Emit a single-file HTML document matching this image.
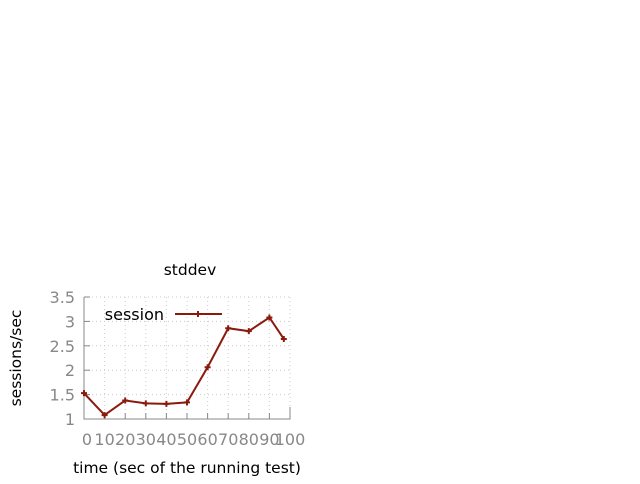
<!DOCTYPE html>
<html><head><meta charset="utf-8"><style>
body{margin:0;background:#fff;width:640px;height:480px;overflow:hidden;font-family:"DejaVu Sans","Liberation Sans",sans-serif}
</style></head><body>
<svg id="chart" width="640" height="480" xmlns="http://www.w3.org/2000/svg" font-family="DejaVu Sans, Liberation Sans, sans-serif">
<text x="190" y="275" font-size="15.5" text-anchor="middle" fill="#000">stddev</text>
<text x="0" y="0" transform="translate(21,358) rotate(-90)" font-size="15.5" text-anchor="middle" fill="#000">sessions/sec</text>
<text x="187" y="473" font-size="15.5" text-anchor="middle" fill="#000">time (sec of the running test)</text>
<g id="grid"></g><g id="axes"></g><g id="series"></g>
<g>
<text x="164" y="320" font-size="16" text-anchor="end" fill="#000">session</text>
<line x1="175" y1="314" x2="222" y2="314" stroke="#8b1a0e" stroke-width="2"/>
<path d="M195,314h6M198,311v6" stroke="#8b1a0e" stroke-width="2"/>
</g>
</svg>
<script>
const xValues=[0,10,20,30,40,50,60,70,80,90,97];
const yValues=[1.53,1.08,1.38,1.32,1.31,1.34,2.06,2.86,2.80,3.08,2.64];
const xTicks=["0","10","20","30","40","50","60","70","80","90","100"];
const yTicks=["1","1.5","2","2.5","3","3.5"];
const NS="http://www.w3.org/2000/svg";
const X0=84,X1=290,Y0=419,Y1=297;
const sx=v=>X0+(v-0)/100*(X1-X0);
const sy=v=>Y0-(v-1)/2.5*(Y0-Y1);
function mk(tag,attrs,parent){const e=document.createElementNS(NS,tag);for(const k in attrs)e.setAttribute(k,attrs[k]);parent.appendChild(e);return e;}
const grid=document.getElementById('grid'),axes=document.getElementById('axes'),ser=document.getElementById('series');
xTicks.forEach((t,i)=>{const x=sx(+t);
 const g=mk('line',{x1:x,y1:Y1,x2:x,y2:Y0,stroke:'#ccc','stroke-dasharray':'1,3'},grid);
 
 
 const tk=mk('line',{x1:x,y1:Y0,x2:x,y2:Y0-6,stroke:'#888'},axes);
 
 
 const tx=mk('text',{x:x+(i==0?3:0),y:445,'font-size':16,'text-anchor':'middle',fill:'#888'},axes);tx.textContent=t;
 
 
});
yTicks.forEach(t=>{const y=sy(+t);
 const g=mk('line',{x1:X0,y1:y,x2:X1,y2:y,stroke:'#ccc','stroke-dasharray':'1,3'},grid);
 
 
 const tk=mk('line',{x1:X0,y1:y,x2:X0+6,y2:y,stroke:'#888'},axes);
 
 
 const tx=mk('text',{x:75,y:y+6,'font-size':16,'text-anchor':'end',fill:'#888'},axes);tx.textContent=t;
 
 
});
const ax=mk('path',{d:`M${X0},${Y1}V${Y0}H${X1}V${Y0-12}`,fill:'none',stroke:'#888'},axes);


const pts=xValues.map((v,i)=>[sx(v),sy(yValues[i])]);
const pl=mk('polyline',{points:pts.map(p=>p.join(',')).join(' '),fill:'none',stroke:'#8b1a0e','stroke-width':2},ser);


pts.forEach(p=>{const m=mk('path',{d:`M${p[0]-3},${p[1]}h6M${p[0]},${p[1]-3}v6`,stroke:'#8b1a0e','stroke-width':2},ser);
 
 
});
</script>
</body></html>
